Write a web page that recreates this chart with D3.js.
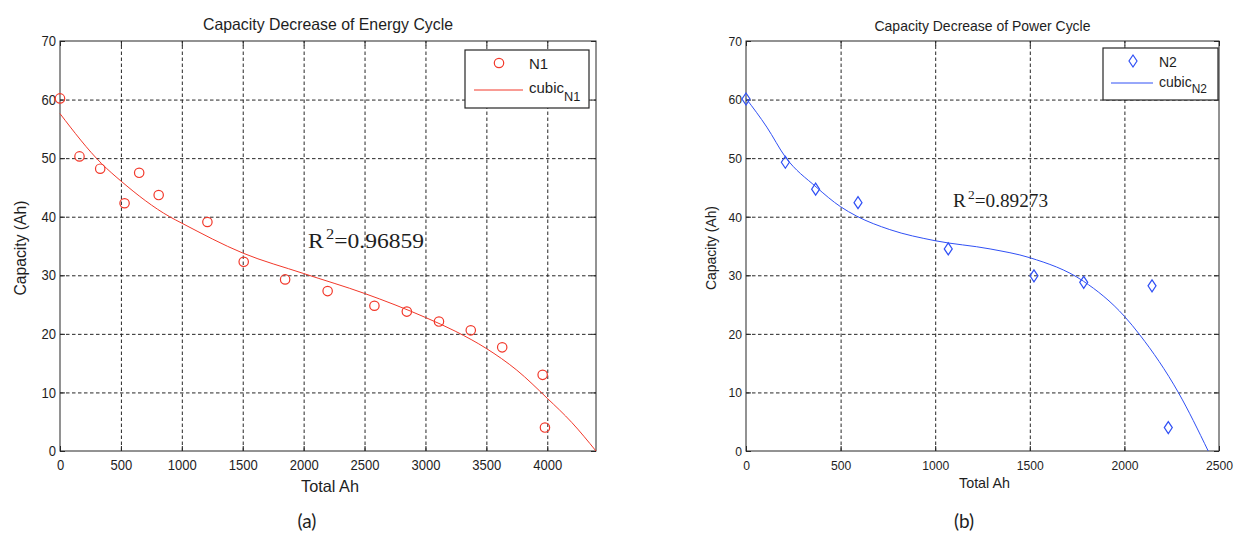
<!DOCTYPE html>
<html>
<head>
<meta charset="utf-8">
<script src="https://cdn.jsdelivr.net/npm/d3@7"></script>
<style>
  body { margin: 0; background: #fff; }
  svg text { fill: #1e1e1e; }
</style>
</head>
<body>
<svg id="chart" width="1241" height="534"></svg>
<script>
const energyAh = [0, 160, 330, 530, 650, 810, 1210, 1508, 1848, 2197, 2581, 2847, 3111, 3372, 3630, 3962, 3981];
const energyCap = [60.2, 50.3, 48.2, 42.3, 47.5, 43.7, 39.1, 32.3, 29.3, 27.3, 24.8, 23.8, 22.1, 20.6, 17.7, 13.0, 4.0];
const energyFitAh = [0, 340, 500, 900, 1000, 1500, 2000, 2500, 3000, 3250, 3500, 3750, 4000, 4200, 4400];
const energyFitCap = [57.6, 49.1, 46.1, 40.0, 38.9, 33.8, 30.3, 26.9, 22.8, 20.4, 17.5, 13.8, 9.0, 4.9, 0];

// (b) power cycle
const powerAh = [0, 208, 368, 592, 1069, 1522, 1785, 2146, 2232];
const powerCap = [60.1, 49.3, 44.7, 42.4, 34.5, 29.9, 28.8, 28.2, 4.0];
const powerFitAh = [0, 110, 208, 370, 500, 585, 760, 1000, 1290, 1500, 1783, 2000, 2082, 2285, 2443];
const powerFitCap = [60.2, 55.3, 50.2, 45.1, 41.7, 40.1, 37.8, 35.9, 34.5, 33.0, 29.0, 23.0, 19.8, 10.0, 0];

const energyTicks = [0, 500, 1000, 1500, 2000, 2500, 3000, 3500, 4000];
const powerTicks = [0, 500, 1000, 1500, 2000, 2500];
const capTicks = [0, 10, 20, 30, 40, 50, 60, 70];

const SANS = `"Liberation Sans", Arial, sans-serif`;
const SERIF = `"Liberation Serif", "Times New Roman", serif`;

const svg = d3.select(`#chart`);

function label(g, txt, x, y, size, len, rotate) {
  const t = g.append(`text`)
    .attr(`x`, x).attr(`y`, y)
    .attr(`font-family`, SANS)
    .attr(`font-size`, size)
    .attr(`text-anchor`, `middle`)
    .attr(`textLength`, len)
    .attr(`lengthAdjust`, `spacingAndGlyphs`)
    .text(txt);
  if (rotate) t.attr(`transform`, `rotate(-90,${x},${y})`);
  return t;
}

function drawPanel(p) {
  const x = d3.scaleLinear().domain([0, p.xMax]).range([p.left, p.right]);
  const y = d3.scaleLinear().domain([0, 70]).range([p.bottom, p.top]);
  const w = p.right - p.left;
  const h = p.bottom - p.top;
  const g = svg.append(`g`);

  // dotted grid
  g.append(`g`)
    .attr(`transform`, `translate(0,${p.bottom})`)
    .call(d3.axisBottom(x).tickValues(p.xTicks.filter(v => v > 0 && v < p.xMax)).tickSize(-h).tickFormat(``))
    .call(s => s.select(`.domain`).remove());
  g.append(`g`)
    .attr(`transform`, `translate(${p.left},0)`)
    .call(d3.axisLeft(y).tickValues(capTicks.filter(v => v > 0 && v < 70)).tickSize(-w).tickFormat(``))
    .call(s => s.select(`.domain`).remove());
  g.selectAll(`.tick line`)
    .attr(`stroke`, `#262626`)
    .attr(`stroke-dasharray`, `3.5,2.5`);

  // axes with inward ticks, labels only bottom/left; glyphs squeezed to look like the narrow plot font
  const styleAxis = s => {
    s.select(`.domain`).remove();
    s.selectAll(`line`).attr(`stroke`, `#262626`);
    s.selectAll(`text`)
      .attr(`font-family`, SANS)
      .attr(`font-size`, p.tickFont)
      .attr(`fill`, `#1e1e1e`)
      .attr(`transform`, `scale(0.9,1)`);
  };
  const fmt = d3.format(`d`);
  g.append(`g`).attr(`transform`, `translate(0,${p.bottom})`)
    .call(d3.axisBottom(x).tickValues(p.xTicks).tickFormat(fmt).tickSizeInner(-5).tickSizeOuter(0).tickPadding(9))
    .call(styleAxis);
  g.append(`g`).attr(`transform`, `translate(0,${p.top})`)
    .call(d3.axisTop(x).tickValues(p.xTicks).tickSizeInner(-5).tickSizeOuter(0).tickFormat(``))
    .call(styleAxis);
  g.append(`g`).attr(`transform`, `translate(${p.left},0)`)
    .call(d3.axisLeft(y).tickValues(capTicks).tickFormat(fmt).tickSizeInner(-5).tickSizeOuter(0).tickPadding(4.5))
    .call(styleAxis);
  g.append(`g`).attr(`transform`, `translate(${p.right},0)`)
    .call(d3.axisRight(y).tickValues(capTicks).tickSizeInner(-5).tickSizeOuter(0).tickFormat(``))
    .call(styleAxis);

  g.append(`rect`)
    .attr(`x`, p.left).attr(`y`, p.top)
    .attr(`width`, w).attr(`height`, h)
    .attr(`fill`, `none`).attr(`stroke`, `#262626`);

  // fitted cubic
  const fit = p.fitX.map((v, i) => [v, p.fitY[i]]);
  g.append(`path`)
    .datum(fit)
    .attr(`fill`, `none`)
    .attr(`stroke`, p.color)
    .attr(`stroke-width`, 1)
    .attr(`d`, d3.line().x(d => x(d[0])).y(d => y(d[1])).curve(d3.curveMonotoneX));

  // measured points
  const pts = p.ptX.map((v, i) => [v, p.ptY[i]]);
  g.selectAll(`.pt`)
    .data(pts)
    .enter().append(`path`)
    .attr(`class`, `pt`)
    .attr(`transform`, d => `translate(${x(d[0])},${y(d[1])})`)
    .attr(`d`, p.marker)
    .attr(`fill`, `none`)
    .attr(`stroke`, p.color)
    .attr(`stroke-width`, 1.2);

  // legend
  const L = p.legend;
  g.append(`rect`)
    .attr(`x`, L.x).attr(`y`, L.y).attr(`width`, L.w).attr(`height`, L.h)
    .attr(`fill`, `#fff`).attr(`stroke`, `#262626`).attr(`stroke-width`, 1.2);
  g.append(`path`)
    .attr(`transform`, `translate(${L.mx},${L.my})`)
    .attr(`d`, p.marker)
    .attr(`fill`, `none`).attr(`stroke`, p.color).attr(`stroke-width`, 1.2);
  g.append(`line`)
    .attr(`x1`, L.lx1).attr(`x2`, L.lx2).attr(`y1`, L.ly).attr(`y2`, L.ly)
    .attr(`stroke`, p.color);
  g.append(`text`)
    .attr(`x`, L.tx).attr(`y`, L.t1y)
    .attr(`font-family`, SANS).attr(`font-size`, L.font)
    .text(p.series);
  const c = g.append(`text`)
    .attr(`x`, L.tx).attr(`y`, L.t2y)
    .attr(`font-family`, SANS).attr(`font-size`, L.font);
  c.append(`tspan`).text(`cubic`);
  c.append(`tspan`).attr(`dy`, L.subDy).attr(`font-size`, L.font * 0.85).text(p.series);

  // R^2 annotation
  const r = g.append(`text`)
    .attr(`x`, p.r2.x).attr(`y`, p.r2.y)
    .attr(`font-family`, SERIF)
    .attr(`font-size`, p.r2.size)
    .attr(`textLength`, p.r2.len)
    .attr(`lengthAdjust`, `spacingAndGlyphs`);
  r.append(`tspan`).text(`R`);
  r.append(`tspan`).attr(`dx`, 2).attr(`dy`, -p.r2.sup).attr(`font-size`, p.r2.size * 0.7).text(`2`);
  r.append(`tspan`).attr(`dy`, p.r2.sup).text(p.r2.text);

  // titles and axis labels
  label(g, p.title, (p.left + p.right) / 2, p.titleY, p.titleSize, p.titleLen);
  label(g, `Total Ah`, (p.left + p.right) / 2 + 2, p.xLabelY, p.labelSize, p.xLabelLen);
  label(g, `Capacity (Ah)`, p.yLabelX, (p.top + p.bottom) / 2 + 2, p.labelSize, p.yLabelLen, true);

  svg.append(`text`)
    .attr(`x`, p.capX).attr(`y`, 528)
    .attr(`font-family`, `Lato, "Noto Sans", sans-serif`)
    .attr(`font-size`, 19)
    .attr(`text-anchor`, `middle`)
    .text(p.caption);
}

drawPanel({
  left: 60, right: 596, top: 41, bottom: 451, xMax: 4400,
  xTicks: energyTicks, tickFont: 14.5,
  ptX: energyAh, ptY: energyCap, fitX: energyFitAh, fitY: energyFitCap,
  color: `#f2382a`,
  marker: d3.symbol(d3.symbolCircle, Math.PI * 4.7 * 4.7)(),
  series: `N1`,
  legend: { x: 465, y: 50, w: 124, h: 58, mx: 499, my: 63, lx1: 474, lx2: 523, ly: 90,
            tx: 529, t1y: 69, t2y: 93, font: 15, subDy: 8 },
  r2: { x: 308, y: 248, size: 21, len: 116, sup: 9, text: `=0.96859` },
  title: `Capacity Decrease of Energy Cycle`, titleY: 29.5, titleSize: 16.5, titleLen: 250,
  xLabelY: 492, xLabelLen: 58, labelSize: 16.5,
  yLabelX: 26, yLabelLen: 95,
  caption: `(a)`, capX: 307
});

drawPanel({
  left: 746, right: 1219, top: 41, bottom: 451, xMax: 2500,
  xTicks: powerTicks, tickFont: 13.5,
  ptX: powerAh, ptY: powerCap, fitX: powerFitAh, fitY: powerFitCap,
  color: `#3050f5`,
  marker: `M0,-6L4,0L0,6L-4,0Z`,
  series: `N2`,
  legend: { x: 1103, y: 48, w: 115, h: 52, mx: 1133, my: 61, lx1: 1111, lx2: 1153, ly: 83,
            tx: 1159, t1y: 66.5, t2y: 86.5, font: 14, subDy: 6.5 },
  r2: { x: 953, y: 207, size: 18, len: 95, sup: 8, text: `=0.89273` },
  title: `Capacity Decrease of Power Cycle`, titleY: 30.5, titleSize: 14.5, titleLen: 216,
  xLabelY: 488, xLabelLen: 51, labelSize: 14.5,
  yLabelX: 716, yLabelLen: 84,
  caption: `(b)`, capX: 964
});
</script>
</body>
</html>
